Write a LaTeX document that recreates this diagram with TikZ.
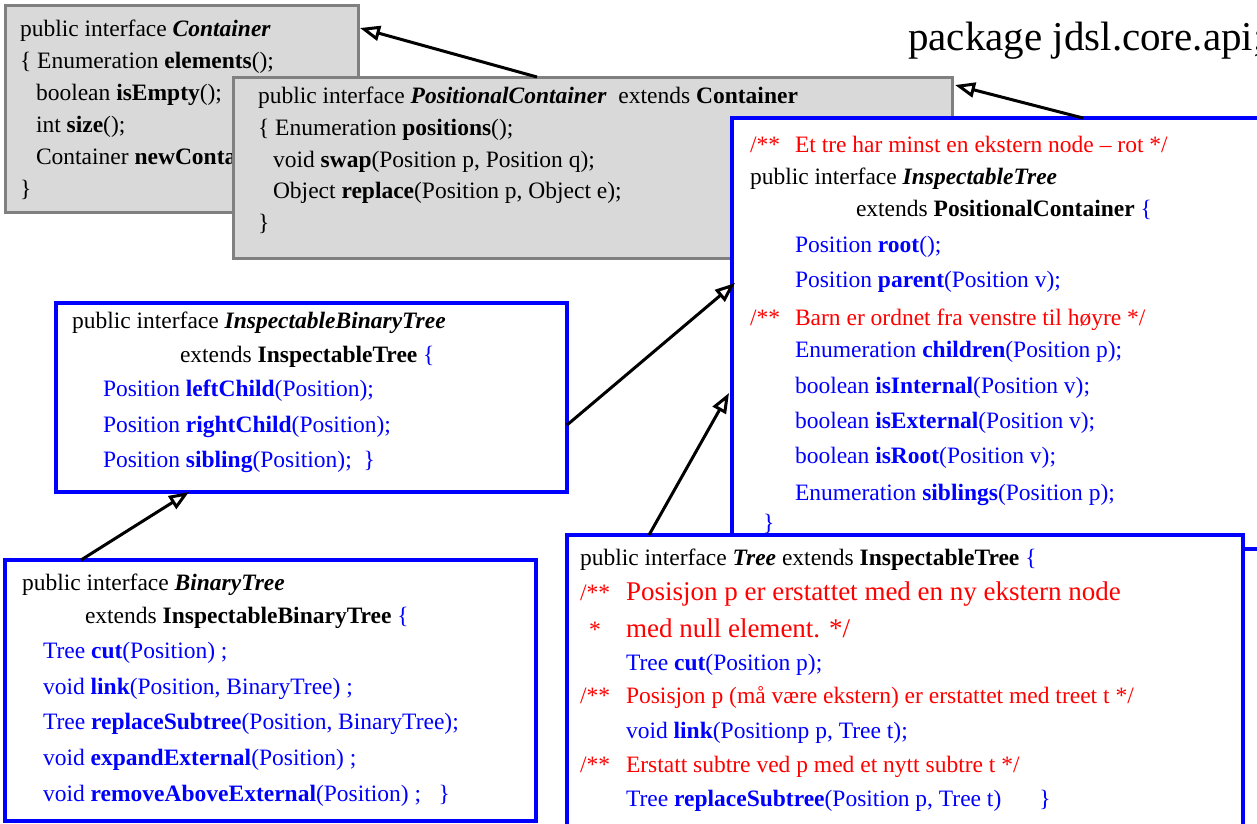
\documentclass[tikz,border=0pt]{standalone}
\usepackage{fontspec}
\setmainfont{Liberation Serif}
\usetikzlibrary{arrows.meta,calc}
\definecolor{boxgray}{RGB}{217,217,217}
\definecolor{edgegray}{RGB}{128,128,128}
\definecolor{jblue}{RGB}{0,0,255}
\definecolor{jred}{RGB}{255,0,0}
\tikzset{
 graybox/.style={draw=edgegray, fill=boxgray, line width=3pt, rectangle, anchor=north west, inner sep=0pt, outer sep=0pt},
 bluebox/.style={draw=jblue, fill=white, line width=4.5pt, rectangle, anchor=north west, inner sep=0pt, outer sep=0pt},
 txt/.style={anchor=base west, inner sep=0pt, outer sep=0pt, font=\fontsize{23.5}{28}\selectfont},
 bigtxt/.style={txt, font=\fontsize{27}{32}\selectfont, text=jred},
 btxt/.style={txt, text=jblue},
 rtxt/.style={txt, text=jred},
 inh/.style={line width=3pt, -{Triangle[fill=white, length=20pt, width=15pt]}},
}
\begin{document}
\begin{tikzpicture}[x=1pt,y=-1pt]
\useasboundingbox (0,0) rectangle (1257,823);
\clip (0,0) rectangle (1257,823);

\node[anchor=base west, inner sep=0pt, font=\fontsize{41}{48}\selectfont] (pkg) at (908,50) {package jdsl.core.api;};

% Container
\node[graybox, minimum width=353pt, minimum height=207pt] (cont) at (5,5) {};
\node[txt] (c1) at (20,36) {public interface \textbf{\textit{Container}}};
\node[txt] (c2) at (20,68) {\{ Enumeration \textbf{elements}();};
\node[txt] (c3) at (36,100) {boolean \textbf{isEmpty}();};
\node[txt] (c4) at (36,132) {int \textbf{size}();};
\node[txt] (c5) at (36,164) {Container \textbf{newContainer}();};
\node[txt] (c6) at (20,196) {\}};

% PositionalContainer
\node[graybox, minimum width=719pt, minimum height=181pt] (pc) at (233,77) {};
\node[txt] (p1) at (258,103) {public interface \textbf{\textit{PositionalContainer}}\ \ extends \textbf{Container}};
\node[txt] (p2) at (258,135) {\{ Enumeration \textbf{positions}();};
\node[txt] (p3) at (273,167) {void \textbf{swap}(Position p, Position q);};
\node[txt] (p4) at (273,198) {Object \textbf{replace}(Position p, Object e);};
\node[txt] (p5) at (258,230) {\}};

% InspectableTree
\node[bluebox, minimum width=570pt, minimum height=431pt] (it) at (732,118) {};
\node[rtxt] (i1a) at (750,152) {/**};
\node[rtxt] (i1b) at (795,152) {Et tre har minst en ekstern node – rot */};
\node[txt] (i2) at (750,184) {public interface \textbf{\textit{InspectableTree}}};
\node[txt] (i3) at (856,216) {extends \textbf{PositionalContainer} {\color{jblue}\{}};
\node[btxt] (i4) at (795,252) {Position \textbf{root}();};
\node[btxt] (i5) at (795,287) {Position \textbf{parent}(Position v);};
\node[rtxt] (i6a) at (750,325) {/**};
\node[rtxt] (i6b) at (795,325) {Barn er ordnet fra venstre til høyre */};
\node[btxt] (i7) at (795,357) {Enumeration \textbf{children}(Position p);};
\node[btxt] (i8) at (795,393) {boolean \textbf{isInternal}(Position v);};
\node[btxt] (i9) at (795,428) {boolean \textbf{isExternal}(Position v);};
\node[btxt] (i10) at (795,463) {boolean \textbf{isRoot}(Position v);};
\node[btxt] (i11) at (795,500) {Enumeration \textbf{siblings}(Position p);};
\node[btxt] (i12) at (763,530) {\}};

% InspectableBinaryTree
\node[bluebox, minimum width=511pt, minimum height=189pt] (ibt) at (56,303) {};
\node[txt] (b1) at (72,328) {public interface \textbf{\textit{InspectableBinaryTree}}};
\node[txt] (b2) at (180,362) {extends \textbf{InspectableTree} {\color{jblue}\{}};
\node[btxt] (b3) at (103,396) {Position \textbf{leftChild}(Position);};
\node[btxt] (b4) at (103,432) {Position \textbf{rightChild}(Position);};
\node[btxt] (b5) at (103,467) {Position \textbf{sibling}(Position);\ \ \}};

% BinaryTree
\node[bluebox, minimum width=531pt, minimum height=261pt] (bt) at (5,560) {};
\node[txt] (t1) at (22,590) {public interface \textbf{\textit{BinaryTree}}};
\node[txt] (t2) at (85,623) {extends \textbf{InspectableBinaryTree} {\color{jblue}\{}};
\node[btxt] (t3) at (43,658) {Tree \textbf{cut}(Position) ;};
\node[btxt] (t4) at (43,694) {void \textbf{link}(Position, BinaryTree) ;};
\node[btxt] (t5) at (43,729) {Tree \textbf{replaceSubtree}(Position, BinaryTree);};
\node[btxt] (t6) at (43,765) {void \textbf{expandExternal}(Position) ;};
\node[btxt] (t7) at (43,801) {void \textbf{removeAboveExternal}(Position) ;\ \ \ \}};

% Tree
\node[bluebox, minimum width=676pt, minimum height=330pt] (tree) at (567,535) {};
\node[txt] (r1) at (580,565) {public interface \textbf{\textit{Tree}} extends \textbf{InspectableTree} {\color{jblue}\{}};
\node[rtxt] (r2a) at (580,600) {/**};
\node[bigtxt] (r2b) at (626,600) {Posisjon p er erstattet med en ny ekstern node};
\node[rtxt] (r3a) at (589,637) {*};
\node[bigtxt] (r3b) at (626,637) {med null element. */};
\node[btxt] (r4) at (626,670) {Tree \textbf{cut}(Position p);};
\node[rtxt] (r5a) at (580,703) {/**};
\node[rtxt] (r5b) at (626,703) {Posisjon p (må være ekstern) er erstattet med treet t */};
\node[btxt] (r6) at (626,738) {void \textbf{link}(Positionp p, Tree t);};
\node[rtxt] (r7a) at (580,772) {/**};
\node[rtxt] (r7b) at (626,772) {Erstatt subtre ved p med et nytt subtre t */};
\node[btxt] (r8) at (626,806) {Tree \textbf{replaceSubtree}(Position p, Tree t)\hspace{38pt}\}};

% inheritance arrows
\draw[inh] ($(pc.north west)+(304,0)$) -- ($(cont.north east)+(2,23)$);
\draw[inh] ($(it.north west)+(351,0)$) -- ($(pc.north east)+(3,8)$);
\draw[inh] ($(ibt.north east)+(0,122)$) -- ($(it.north west)+(3,165)$);
\draw[inh] ($(tree.north west)+(82,0)$) -- ($(it.north west)+(-3,275)$);
\draw[inh] ($(bt.north west)+(76,0)$) -- ($(ibt.south west)+(133,0)$);
\end{tikzpicture}
\end{document}
